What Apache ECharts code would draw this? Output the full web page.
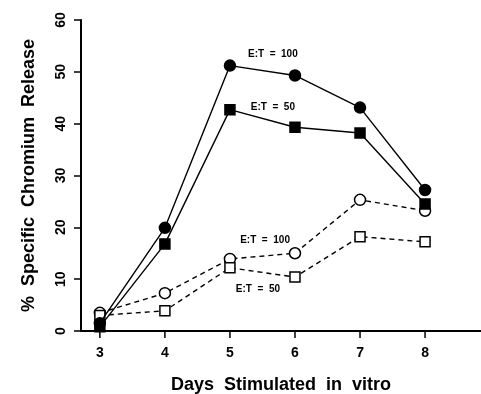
<!DOCTYPE html>
<html>
<head>
<meta charset="utf-8">
<script src="https://cdn.jsdelivr.net/npm/echarts@6/dist/echarts.min.js"></script>
<style>
  html, body { margin: 0; padding: 0; background: #fff; }
  #chart { width: 481px; height: 394px; }
</style>
</head>
<body>
<div id="chart"></div>
<script>
// days in vitro
const days = [3, 4, 5, 6, 7, 8];
// solid lines (filled markers)
const filled100 = [1.5, 19.9, 51.2, 49.3, 43.1, 27.2];
const filled50 = [0.8, 16.8, 42.7, 39.3, 38.2, 24.5];
// dashed lines (open markers)
const open100 = [3.5, 7.3, 13.9, 15.0, 25.3, 23.2];
const open50 = [3.0, 3.9, 12.2, 10.4, 18.2, 17.2];
const yTicks = [0, 10, 20, 30, 40, 50, 60];
// annotation text and where it sits (data coords)
const labels = [
  { text: 'E:T  =  100', at: [5.66, 53.3] },
  { text: 'E:T  =  50', at: [5.66, 43.2] },
  { text: 'E:T  =  100', at: [5.54, 17.6] },
  { text: 'E:T  =  50', at: [5.43, 8.1] }
];

const font = '"Liberation Sans", Arial, sans-serif';
const chart = echarts.init(document.getElementById('chart'));

const pairs = arr => days.map((d, i) => [d, arr[i]]);

const mkSeries = (name, arr, symbol, filled, dashed) => ({
  name: name,
  type: 'line',
  data: pairs(arr),
  symbol: symbol,
  symbolSize: symbol === 'circle' ? 11 : 10,
  showSymbol: true,
  z: filled ? 3 : 2,
  lineStyle: { color: '#000', width: 1.4, type: dashed ? [5, 4] : 'solid' },
  itemStyle: { color: filled ? '#000' : '#fff', borderColor: '#000', borderWidth: 1.5 },
  emphasis: { disabled: true }
});

const option = {
  animation: false,
  grid: { left: 81, right: 0, top: 20, bottom: 63, outerBoundsMode: 'none', containLabel: false },
  xAxis: {
    type: 'value',
    min: 2.71,
    max: 8.86,
    interval: 1,
    name: 'Days  Stimulated  in  vitro',
    nameLocation: 'middle',
    nameGap: 45,
    nameTextStyle: { color: '#000', fontFamily: font, fontWeight: 'bold', fontSize: 18 },
    axisLine: { lineStyle: { color: '#000', width: 2 } },
    axisTick: { show: false },
    splitLine: { show: false },
    axisLabel: { show: false }
  },
  yAxis: {
    type: 'value',
    min: 0,
    max: 60,
    interval: 10,
    name: '%  Specific  Chromium  Release',
    nameLocation: 'middle',
    nameGap: 43,
    nameTextStyle: { color: '#000', fontFamily: font, fontWeight: 'bold', fontSize: 18 },
    axisLine: { show: true, lineStyle: { color: '#000', width: 2 } },
    axisTick: { show: true, inside: false, length: 7, lineStyle: { color: '#000', width: 1.5 } },
    splitLine: { show: false },
    axisLabel: {
      rotate: 90,
      margin: 13,
      color: '#000',
      fontFamily: font,
      fontWeight: 'bold',
      fontSize: 14,
      formatter: v => (yTicks.indexOf(v) >= 0 ? String(v) : '')
    }
  },
  series: [
    mkSeries('ET100', filled100, 'circle', true, false),
    mkSeries('ET50', filled50, 'rect', true, false),
    mkSeries('ET100o', open100, 'circle', false, true),
    mkSeries('ET50o', open50, 'rect', false, true)
  ]
};

chart.setOption(option);

// x ticks and labels on the day positions, plus annotations
const g = [];
days.forEach(d => {
  const p = chart.convertToPixel({ gridIndex: 0 }, [d, 0]);
  g.push({
    type: 'line',
    shape: { x1: p[0], y1: p[1], x2: p[0], y2: p[1] + 7 },
    style: { stroke: '#000', lineWidth: 1.5 },
    z: 10
  });
  g.push({
    type: 'text',
    x: p[0],
    y: p[1] + 22,
    style: {
      text: String(d), fill: '#000', font: 'bold 14px ' + font,
      textAlign: 'center', textVerticalAlign: 'middle'
    },
    z: 10
  });
});
labels.forEach(l => {
  const p = chart.convertToPixel({ gridIndex: 0 }, l.at);
  g.push({
    type: 'text',
    x: p[0],
    y: p[1],
    style: {
      text: l.text, fill: '#000', font: 'bold 10px ' + font,
      textAlign: 'center', textVerticalAlign: 'middle'
    },
    z: 10
  });
});
chart.setOption({ graphic: g });
</script>
</body>
</html>
